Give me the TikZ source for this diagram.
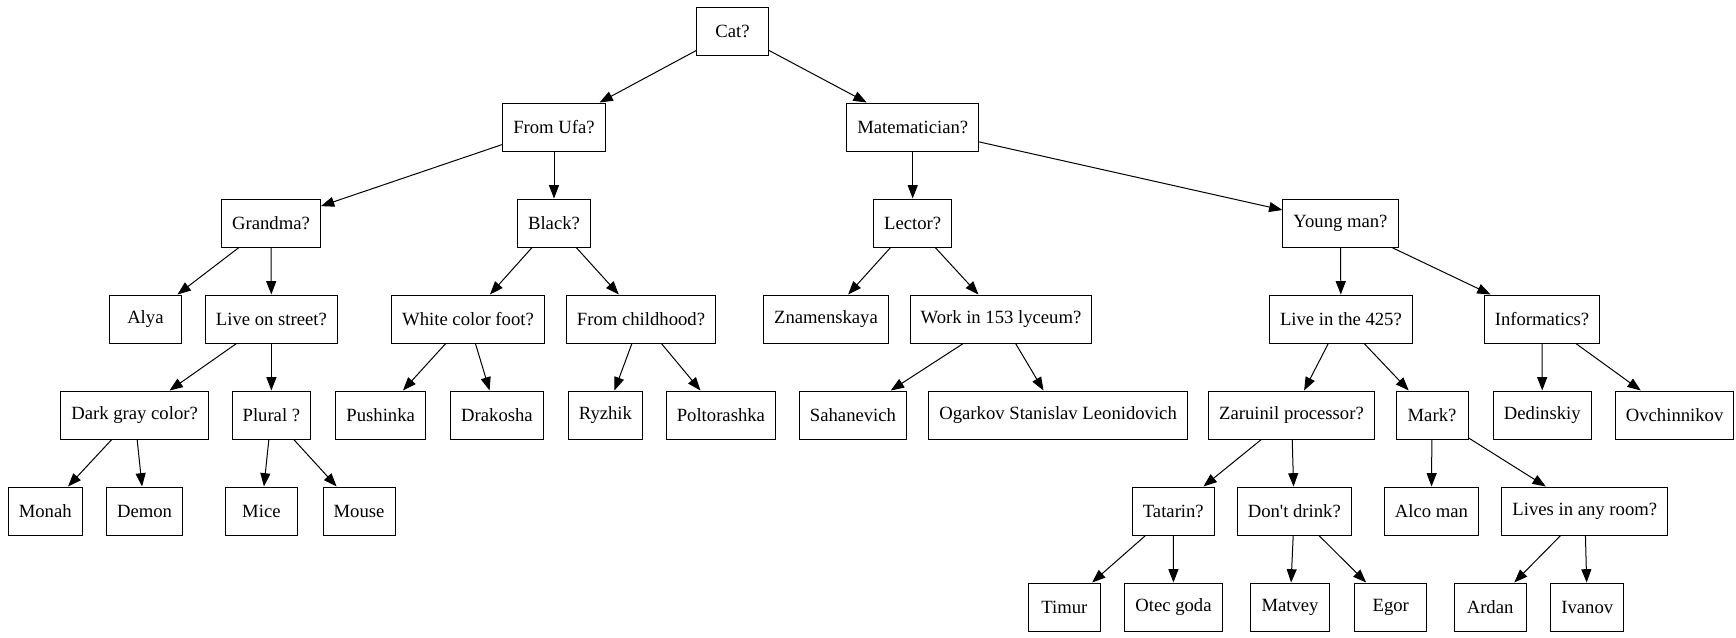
\documentclass[tikz,border=0pt]{standalone}
\usepackage{fontspec}
\setmainfont{Liberation Serif}
\usepackage{tikz}
\usetikzlibrary{positioning, arrows.meta}

\begin{document}
\begin{tikzpicture}[
        x=0.75pt, y=-0.75pt,
        % Stili per i nodi
        qbox/.style={rectangle, draw=black, line width=0.75pt, fill=white, minimum width=54pt, minimum height=36pt, inner xsep=7.9pt, font=\fontsize{14}{16}\selectfont},
        % Stili per le frecce
        arrow/.style={-{Triangle[length=10pt, width=7.5pt]}, line width=0.75pt, draw=black}
    ]
    \useasboundingbox (0,0) rectangle (1736,637);

    % --- LIVELLO 1 ---
    \node[qbox] (cat) at (732.5, 31) {Cat?};

    % --- LIVELLO 2 ---
    \node[qbox] (ufa) at (554, 127) {From Ufa?};
    \node[qbox] (mat) at (912.7, 127) {Matematician?};

    % --- LIVELLO 3 ---
    \node[qbox] (grandma) at (271, 223) {Grandma?};
    \node[qbox] (black) at (554, 223) {Black?};
    \node[qbox] (lector) at (912.7, 223) {Lector?};
    \node[qbox] (young) at (1340.5, 223) {Young man?};

    % --- LIVELLO 4 ---
    \node[qbox] (alya) at (145.4, 319) {Alya};
    \node[qbox] (street) at (271.4, 319) {Live on street?};
    \node[qbox] (foot) at (468, 319) {White color foot?};
    \node[qbox] (child) at (641, 319) {From childhood?};
    \node[qbox] (znam) at (826, 319) {Znamenskaya};
    \node[qbox] (lyceum) at (1001, 319) {Work in 153 lyceum?};
    \node[qbox] (live425) at (1340.9, 319) {Live in the 425?};
    \node[qbox] (inform) at (1542, 319) {Informatics?};

    % --- LIVELLO 5 ---
    \node[qbox] (gray) at (134.6, 415) {Dark gray color?};
    \node[qbox] (plural) at (271.4, 415) {Plural ?};
    \node[qbox] (pushinka) at (380.7, 415) {Pushinka};
    \node[qbox] (drakosha) at (497, 415) {Drakosha};
    \node[qbox] (ryzhik) at (605.4, 415) {Ryzhik};
    \node[qbox] (poltor) at (720.9, 415) {Poltorashka};
    \node[qbox] (sahan) at (853, 415) {Sahanevich};
    \node[qbox] (ogarkov) at (1058.1, 415) {Ogarkov Stanislav Leonidovich};
    \node[qbox] (proc) at (1291.5, 415) {Zaruinil processor?};
    \node[qbox] (mark) at (1432, 415) {Mark?};
    \node[qbox] (dedin) at (1542.3, 415) {Dedinskiy};
    \node[qbox] (ovch) at (1674.6, 415) {Ovchinnikov};

    % --- LIVELLO 6 ---
    \node[qbox] (monah) at (45.2, 511) {Monah};
    \node[qbox] (demon) at (144.6, 511) {Demon};
    \node[qbox] (mice) at (261.4, 511) {Mice};
    \node[qbox] (mouse) at (359, 511) {Mouse};
    \node[qbox] (tatarin) at (1173.3, 511) {Tatarin?};
    \node[qbox] (drink) at (1294.3, 511) {Don\textquotesingle t drink?};
    \node[qbox] (alco) at (1431.4, 511) {Alco man};
    \node[qbox] (room) at (1584.8, 511) {Lives in any room?};

    % --- LIVELLO 7 ---
    \node[qbox] (timur) at (1064.3, 607) {Timur};
    \node[qbox] (otec) at (1173.5, 607) {Otec goda};
    \node[qbox] (matvey) at (1290, 607) {Matvey};
    \node[qbox] (egor) at (1390.8, 607) {Egor};
    \node[qbox] (ardan) at (1490.1, 607) {Ardan};
    \node[qbox] (ivanov) at (1587.3, 607) {Ivanov};

    % --- FRECCE ---
    \foreach \a/\b in {cat/ufa, cat/mat, ufa/grandma, ufa/black, mat/lector, mat/young,
        grandma/alya, grandma/street, black/foot, black/child, lector/znam, lector/lyceum,
        young/live425, young/inform, street/gray, street/plural, foot/pushinka, foot/drakosha,
        child/ryzhik, child/poltor, lyceum/sahan, lyceum/ogarkov, live425/proc, live425/mark,
        inform/dedin, inform/ovch, gray/monah, gray/demon, plural/mice, plural/mouse,
        proc/tatarin, proc/drink, mark/alco, mark/room, tatarin/timur, tatarin/otec,
        drink/matvey, drink/egor, room/ardan, room/ivanov} {
        \draw[arrow] (\a) -- (\b);
    }

\end{tikzpicture}
\end{document}
